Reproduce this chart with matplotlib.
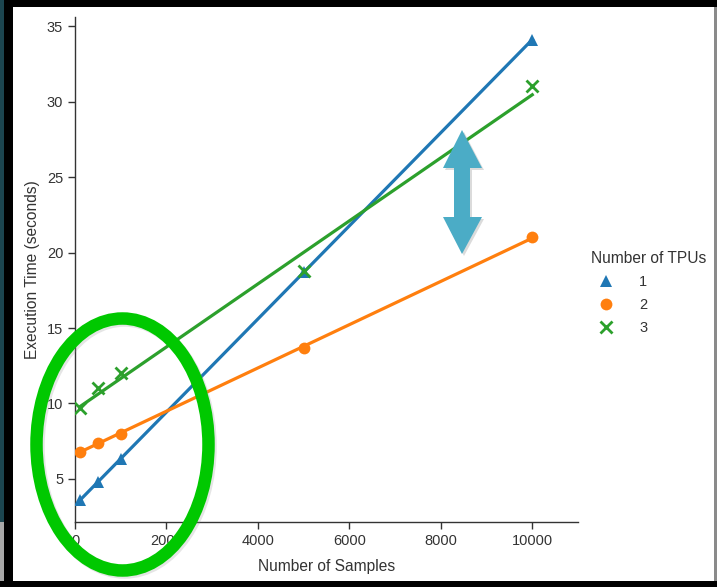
import numpy as np
import matplotlib
matplotlib.use('Agg')
import matplotlib.pyplot as plt
from matplotlib.patches import Ellipse, Polygon, Rectangle
from matplotlib.lines import Line2D

# Execution time vs number of samples, one series per TPU count

samples = [100, 500, 1000, 5000, 10000]
time_1tpu = [3.6, 4.8, 6.3, 18.7, 34.1]
time_2tpu = [6.8, 7.4, 8.0, 13.7, 21.0]
time_3tpu = [9.7, 11.0, 12.0, 18.8, 31.0]

tpu_labels = ['1', '2', '3']
colors = ['#1f77b4', '#ff7f0e', '#2ca02c']
markers = ['^', 'o', 'x']

plt.rcParams['font.family'] = ['Liberation Sans', 'DejaVu Sans']
ink = '#333333'

fig = plt.figure(figsize=(7.17, 5.87), dpi=100, facecolor='white')
ax = fig.add_axes([75 / 717, 1 - 522 / 587, (578 - 75) / 717, (522 - 17) / 587])

x = np.array(samples)
handles = []
for times, c, m, lab in zip([time_1tpu, time_2tpu, time_3tpu], colors, markers, tpu_labels):
    y = np.array(times)
    slope, icpt = np.polyfit(x, y, 1)
    xs = np.array([x.min(), x.max()])
    ax.plot(xs, slope * xs + icpt, color=c, lw=2.3, zorder=2)
    mw = 2 if m == 'x' else 0
    ax.plot(x, y, ls='none', marker=m, color=c, ms=8.5, mew=mw, zorder=3)
    handles.append(Line2D([], [], ls='none', marker=m, color=c, ms=8.5, mew=mw, label=lab))

ax.set_xlim(0, 11000)
ax.set_ylim(2.15, 35.6)
ax.set_xticks([0, 2000, 4000, 6000, 8000, 10000])
ax.set_yticks([5, 10, 15, 20, 25, 30, 35])
ax.set_xlabel('Number of Samples', fontsize=11.2, color=ink, labelpad=8)
ax.set_ylabel('Execution Time (seconds)', fontsize=11.2, color=ink, labelpad=5)
ax.tick_params(labelsize=10.5, colors=ink, length=5, width=1.0)
for side in ['top', 'right']:
    ax.spines[side].set_visible(False)
for side in ['left', 'bottom']:
    ax.spines[side].set_color(ink)
    ax.spines[side].set_linewidth(1.0)

leg = fig.legend(handles=handles, title='Number of TPUs', loc='center left',
                 bbox_to_anchor=(578 / 717, 1 - 293 / 587), frameon=False,
                 fontsize=10.5, title_fontsize=11.2, handlelength=2.0,
                 handletextpad=1.3, labelspacing=0.62, alignment='left')
leg.get_title().set_color(ink)
for t in leg.get_texts():
    t.set_color(ink)

# overlay in pixel coordinates for the highlight marks and the frame
ov = fig.add_axes([0, 0, 1, 1], zorder=10)
ov.set_xlim(0, 717)
ov.set_ylim(587, 0)
ov.axis('off')
ov.patch.set_alpha(0)

# green ellipse around the small-sample region
ov.add_patch(Ellipse((124.5, 446.5), 172, 252, fill=False, ec='#999999', lw=9, alpha=0.25))
ov.add_patch(Ellipse((122.5, 444.5), 172, 252, fill=False, ec='#00c800', lw=9))

# double-headed arrow showing the gap between the series
arrow_pts = [(462, 130), (482, 168), (470, 168), (470, 217), (482, 217),
             (462, 254), (443, 217), (454, 217), (454, 168), (443, 168)]
shadow_pts = [(px + 2, py + 2) for px, py in arrow_pts]
ov.add_patch(Polygon(shadow_pts, closed=True, fc='#888888', ec='none', alpha=0.3))
ov.add_patch(Polygon(arrow_pts, closed=True, fc='#4bacc6', ec='none'))

# dark frame around the panel
ov.add_patch(Rectangle((0, 0), 717, 7, fc='black', ec='none'))
ov.add_patch(Rectangle((0, 581), 717, 6, fc='black', ec='none'))
ov.add_patch(Rectangle((0, 0), 13, 587, fc='black', ec='none'))
ov.add_patch(Rectangle((0, 0), 4, 522, fc='#1c4650', ec='none'))
ov.add_patch(Rectangle((0, 522), 4, 59, fc='#a8a8a8', ec='none'))
ov.add_patch(Rectangle((714, 7), 3, 574, fc='#8a8a8a', ec='none'))

fig.savefig('out.png', dpi=100, facecolor='white')
